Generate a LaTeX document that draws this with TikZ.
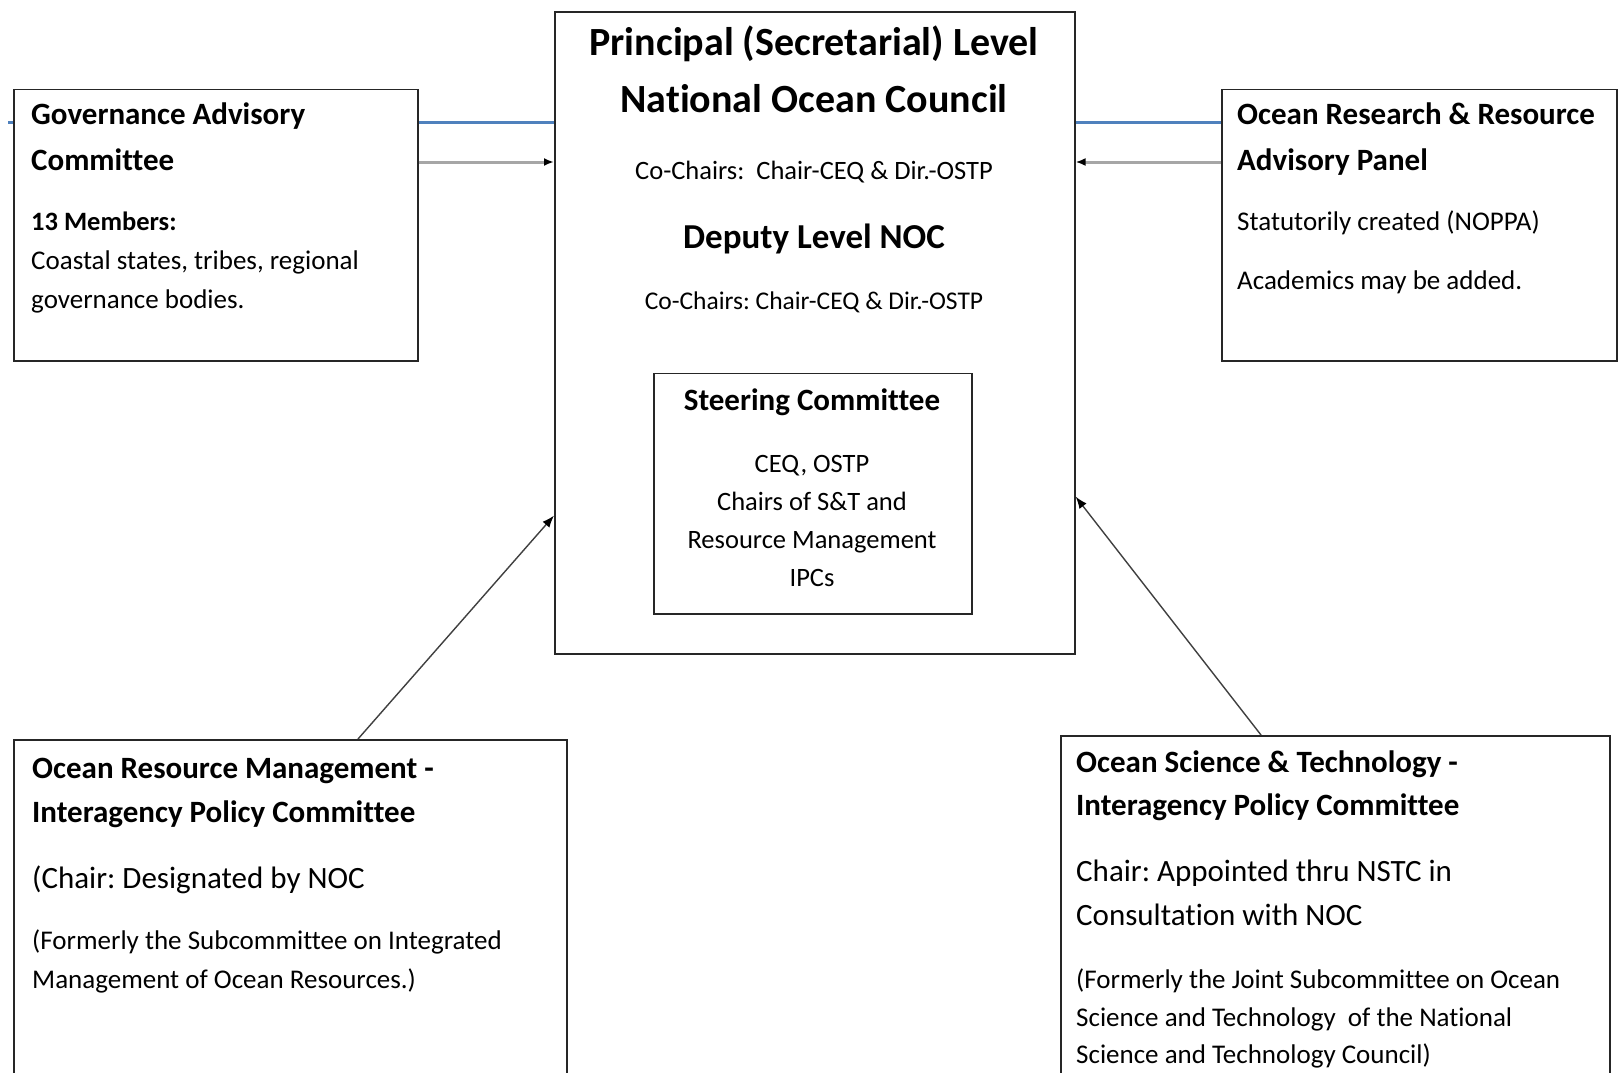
\documentclass[tikz,border=0pt]{standalone}
\usepackage{fontspec}
\setmainfont{Carlito}[Ligatures=NoCommon]
\usetikzlibrary{arrows.meta,backgrounds}
\definecolor{wordblue}{HTML}{4F81BD}
\newcommand\fsz[1]{\fontsize{#1}{#1}\selectfont}
\frenchspacing
\begin{document}
\begin{tikzpicture}[x=1pt,y=-1pt,
  box/.style={draw=black!85, line width=1.6pt, fill=white, inner sep=0pt, anchor=north west},
  tx/.style={inner sep=0pt, anchor=base west, text=black},
  txc/.style={inner sep=0pt, anchor=base, text=black},
  link/.style={draw=wordblue, line width=3pt},
  feed/.style={draw=black!35, line width=3pt, -{Latex[length=10pt,width=8pt,color=black]}},
  diag/.style={draw=black!75, line width=1.4pt, -{Latex[length=12pt,width=9pt,color=black]}},
]
\useasboundingbox (0,0) rectangle (1618,1073);
\clip (0,0) rectangle (1618,1073);

% boxes
\node[box, minimum width=520pt, minimum height=641.6pt] (noc) at (554,11.4) {};
\node[box, minimum width=318pt, minimum height=240.5pt] (steer) at (653,372.5) {};
\node[box, minimum width=403.6pt, minimum height=271.3pt] (gac) at (13.4,88.7) {};
\node[box, minimum width=395pt, minimum height=271.3pt] (orrap) at (1221,88.7) {};
\node[box, minimum width=553pt, minimum height=360pt] (orm) at (13.4,739) {};
\node[box, minimum width=549pt, minimum height=360pt] (ost) at (1060,735) {};

% connectors
\coordinate (bl) at (8,122.8);
\coordinate (br) at (1618,122.8);
\begin{scope}[on background layer]
\fill[white] (0,0) rectangle (1618,1073);
\draw[link] (bl) -- (bl -| noc.west);
\draw[link] (br -| noc.east) -- (br);
\end{scope}
\path ([yshift=-73.3pt]gac.north east) coordinate (g1);
\path ([yshift=-73.3pt]orrap.north west) coordinate (r1);
\draw[feed] (g1) -- (g1 -| noc.west);
\draw[feed] (r1) -- (r1 -| noc.east);
\draw[diag] ([xshift=344.6pt]orm.north west) -- ([yshift=139pt]noc.south west);
\draw[diag] ([xshift=201pt]ost.north west) -- ([yshift=158pt]noc.south east);

% NOC texts
\node[txc] (t1) at (814,56) {\fsz{40}\bfseries Principal (Secretarial) Level};
\node[txc] (t2) at (814,113) {\fsz{40}\bfseries National Ocean Council};
\node[txc] (t3) at (814,179) {\fsz{26.5}Co-Chairs:\ \ Chair-CEQ \& Dir.-OSTP};
\node[txc] (t4) at (814,248) {\fsz{35}\bfseries Deputy Level NOC};
\node[txc] (t5) at (814,309.5) {\fsz{25.5}Co-Chairs: Chair-CEQ \& Dir.-OSTP};
\node[txc] (s1) at (812,410.7) {\fsz{31}\bfseries Steering Committee};
\node[txc] (s2) at (812,472.2) {\fsz{26.5}CEQ, OSTP};
\node[txc] (s3) at (812,510.3) {\fsz{26.5}Chairs of S\&T and};
\node[txc] (s4) at (812,548.5) {\fsz{26.5}Resource Management};
\node[txc] (s5) at (812,586.7) {\fsz{26.5}IPCs};

% GAC texts
\node[tx] (g2) at (31,124.9) {\fsz{31}\bfseries Governance Advisory};
\node[tx] (g3) at (31,170.3) {\fsz{31}\bfseries Committee};
\node[tx] (g4) at (31,230.7) {\fsz{26.5}\bfseries 13 Members:};
\node[tx] (g5) at (31,269.9) {\fsz{27}Coastal states, tribes, regional};
\node[tx] (g6) at (31,308.1) {\fsz{27}governance bodies.};

% ORRAP texts
\node[tx] (r2) at (1237,124.9) {\fsz{31}\bfseries Ocean Research \& Resource};
\node[tx] (r3) at (1237,170.3) {\fsz{31}\bfseries Advisory Panel};
\node[tx] (r4) at (1237,230.7) {\fsz{27}Statutorily created (NOPPA)};
\node[tx] (r5) at (1237,289.5) {\fsz{27}Academics may be added.};

% ORM texts
\node[tx] (m1) at (32,778.1) {\fsz{31}\bfseries Ocean Resource Management -};
\node[tx] (m2) at (32,822.4) {\fsz{31}\bfseries Interagency Policy Committee};
\node[tx] (m3) at (32,888.5) {\fsz{31}(Chair: Designated by NOC};
\node[tx] (m4) at (32,949.9) {\fsz{27}(Formerly the Subcommittee on Integrated};
\node[tx] (m5) at (32,988.1) {\fsz{27}Management of Ocean Resources.)};

% OST texts
\node[tx] (o1) at (1076,772.9) {\fsz{31}\bfseries Ocean Science \& Technology -};
\node[tx] (o2) at (1076,815.2) {\fsz{31}\bfseries Interagency Policy Committee};
\node[tx] (o3) at (1076,881.3) {\fsz{31}Chair: Appointed thru NSTC in};
\node[tx] (o4) at (1076,925.6) {\fsz{31}Consultation with NOC};
\node[tx] (o5) at (1076,988.1) {\fsz{27}(Formerly the Joint Subcommittee on Ocean};
\node[tx] (o6) at (1076,1026.3) {\fsz{27}Science and Technology\ \ of the National};
\node[tx] (o7) at (1076,1063.4) {\fsz{27}Science and Technology Council)};
\end{tikzpicture}
\end{document}
